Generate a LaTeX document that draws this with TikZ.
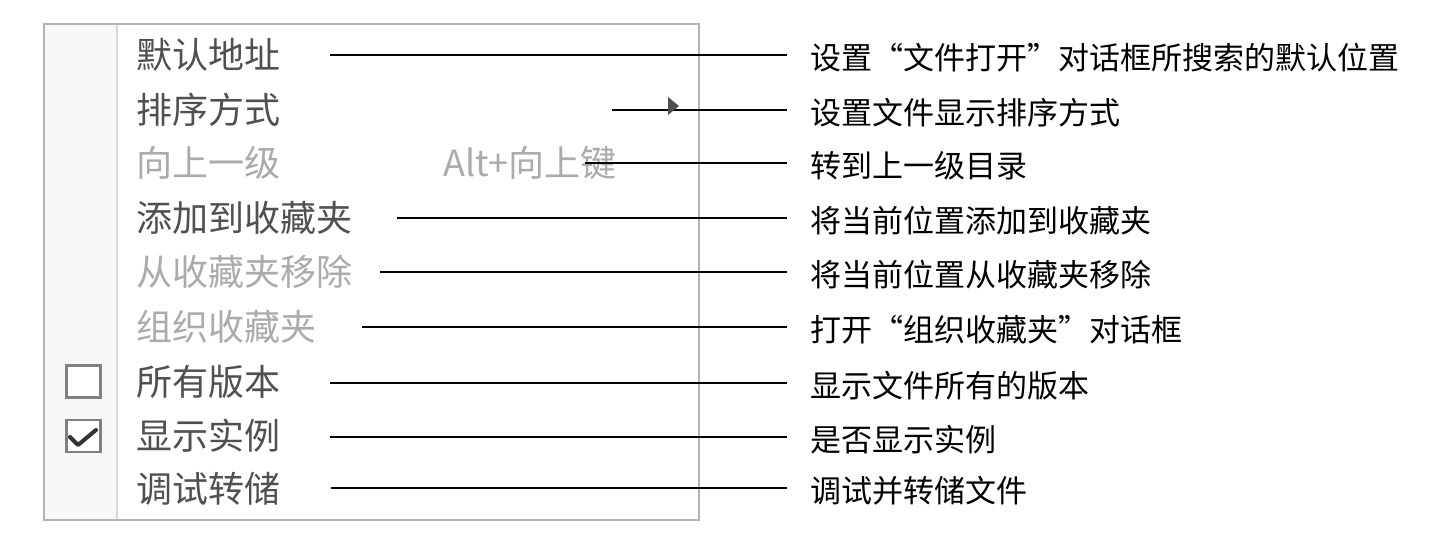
\documentclass[tikz,border=0pt]{standalone}
\usepackage{fontspec}
\newfontfamily\cjk{Noto Sans CJK SC}
\definecolor{menuon}{HTML}{505050}
\definecolor{menuoff}{HTML}{ABABAB}
\definecolor{frame}{HTML}{B4B4B4}
\definecolor{sep}{HTML}{D8D8D8}
\definecolor{gutter}{HTML}{F8F8F8}
\definecolor{chk}{HTML}{808080}
\tikzset{
  menuitem/.style={anchor=west, inner sep=0pt, font=\cjk\fontsize{36}{36}\selectfont, text=menuon},
  menuoff/.style={menuitem, text=menuoff},
  desc/.style={anchor=west, inner sep=0pt, font=\cjk\fontsize{31}{31}\selectfont, text=black},
  leader/.style={draw=black, line width=2pt},
  chkbox/.style={draw=chk, line width=2.5pt, fill=white, minimum width=34pt, minimum height=32pt, inner sep=0pt}
}
\begin{document}
\begin{tikzpicture}[x=1pt,y=-1pt]
\useasboundingbox (0,0) rectangle (1440,537);
% menu frame
\fill[white] (44,24) rectangle (699,520);
\fill[gutter] (44,24) rectangle (117,520);
\draw[sep, line width=2pt] (117,25) -- (117,519);
\draw[frame, line width=2pt] (44,24) rectangle (699,520);
% menu items
\node[menuitem] (m1) at (136,55) {默认地址};
\node[menuitem] (m2) at (136,110) {排序方式};
\node[menuoff]  (m3) at (136,163) {向上一级};
\node[menuoff]  (m3k) at (443,163) {Alt+向上键};
\node[menuitem] (m4) at (136,218) {添加到收藏夹};
\node[menuoff]  (m5) at (136,272) {从收藏夹移除};
\node[menuoff]  (m6) at (136,327) {组织收藏夹};
\node[menuitem] (m7) at (136,382) {所有版本};
\node[menuitem] (m8) at (136,436) {显示实例};
\node[menuitem] (m9) at (136,489) {调试转储};
% checkboxes
\node[chkbox] (cb1) at (83.5,381.5) {};
\node[chkbox] (cb2) at (83.5,436) {};
\draw[black!80, line width=4pt, line cap=round, line join=round] (70,437) -- (78,445) -- (96,430);
% descriptions
\node[desc] (d1) at (810,58) {设置“文件打开”对话框所搜索的默认位置};
\node[desc] (d2) at (810,113) {设置文件显示排序方式};
\node[desc] (d3) at (810,166) {转到上一级目录};
\node[desc] (d4) at (810,221) {将当前位置添加到收藏夹};
\node[desc] (d5) at (810,275) {将当前位置从收藏夹移除};
\node[desc] (d6) at (810,330) {打开“组织收藏夹”对话框};
\node[desc] (d7) at (810,386) {显示文件所有的版本};
\node[desc] (d8) at (810,440) {是否显示实例};
\node[desc] (d9) at (810,491) {调试并转储文件};
% leader start / end points
\coordinate (s1) at (330,55);  \coordinate (e1) at (787,55);
\coordinate (s2) at (612,110); \coordinate (e2) at (787,110);
\coordinate (s3) at (585,163); \coordinate (e3) at (787,163);
\coordinate (s4) at (397,218); \coordinate (e4) at (787,218);
\coordinate (s5) at (380,272); \coordinate (e5) at (787,272);
\coordinate (s6) at (362,327); \coordinate (e6) at (787,327);
\coordinate (s7) at (330,383); \coordinate (e7) at (787,383);
\coordinate (s8) at (330,437); \coordinate (e8) at (787,437);
\coordinate (s9) at (331,488); \coordinate (e9) at (787,488);
\foreach \i in {1,...,9} { \draw[leader] (s\i) -- (e\i); }
% submenu arrow
\fill[menuon] (668,97) -- (679,106) -- (668,115) -- cycle;
\end{tikzpicture}
\end{document}
